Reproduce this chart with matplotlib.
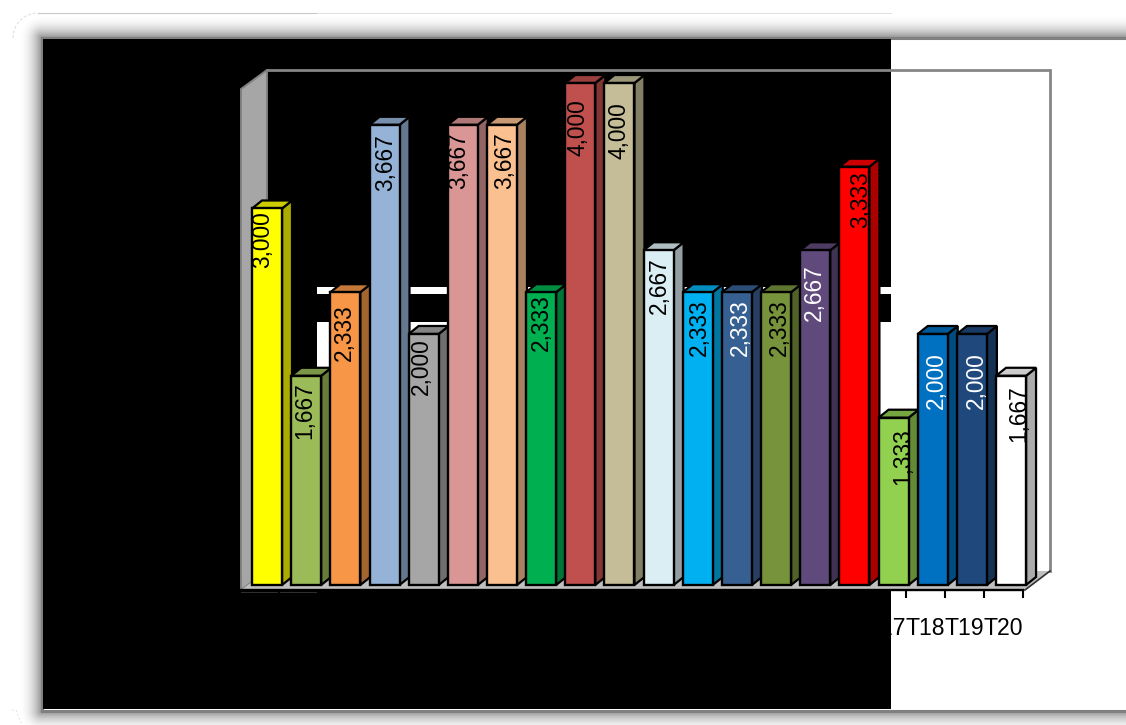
import numpy as np
import matplotlib
matplotlib.use("Agg")
import matplotlib.pyplot as plt
from matplotlib.patches import Polygon, Rectangle

plt.rcParams['font.family'] = ['Liberation Sans', 'DejaVu Sans']

W, H = 1126, 725

categories = ["T" + str(i) for i in range(1, 21)]
values = [3.000, 1.667, 2.333, 3.667, 2.000, 3.667, 3.667, 2.333, 4.000, 4.000,
          2.667, 2.333, 2.333, 2.333, 2.667, 3.333, 1.333, 2.000, 2.000, 1.667]
value_labels = ["3,000", "1,667", "2,333", "3,667", "2,000", "3,667", "3,667", "2,333", "4,000", "4,000",
                "2,667", "2,333", "2,333", "2,333", "2,667", "3,333", "1,333", "2,000", "2,000", "1,667"]
bar_colors = ["#FFFF00", "#9BBB59", "#F79646", "#95B3D7", "#A6A6A6", "#D99694", "#FAC090", "#00B050",
              "#C0504D", "#C4BD97", "#DBEEF4", "#00B0F0", "#376092", "#77933C", "#604A7B", "#FF0000",
              "#92D050", "#0070C0", "#1F497D", "#FFFFFF"]
text_colors = ["black", "black", "black", "black", "black", "black", "black", "black", "black", "black",
               "black", "black", "white", "black", "white", "black", "black", "white", "white", "black"]

# where each value label sits relative to its bar top, in pixels
label_dx = [-4, -1, -1, 1, -2, -4, 3, 0, -2, 0, 1, 2, 3, 3, -1, 6, 9, 4, 4, 8]
label_dy = [3, 6, 12, 9, 4, 7, 7, 2, 16, 19, 7, 7, 7, 7, 14, 5, 11, 18, 18, 9]


def shade(color, f):
    r, g, b, _ = matplotlib.colors.to_rgba(color)
    return (r * f, g * f, b * f)


fig = plt.figure(figsize=(W / 100, H / 100), dpi=100, facecolor="white")

# backdrop, in pixel coordinates
bg = fig.add_axes([0, 0, 1, 1], zorder=0)
bg.axis("off")

# soft shadow round the chart frame
yy, xx = np.mgrid[0:H, 0:W]
ddx = np.maximum(41 - xx, 0)
ddy = np.maximum(np.maximum(37 - yy, yy - 711), 0)
dist = np.hypot(ddx, ddy)
alpha = np.clip(1 - dist / 24, 0, 1) ** 2.2 * 0.42
shadow = np.zeros((H, W, 4))
shadow[..., 3] = alpha
bg.imshow(shadow, extent=(0, W, H, 0), aspect="auto", interpolation="bilinear", zorder=1)
bg.set_xlim(0, W)
bg.set_ylim(H, 0)

# faint rounded outline behind the frame
t = np.linspace(np.pi, 1.5 * np.pi, 30)
bg.plot(38 + 25 * np.cos(t), 38 + 25 * np.sin(t), color="#dcdcdc", lw=0.7, ls=(0, (3, 2)), zorder=2)
bg.plot([38, 317], [13, 13], color="#c8c8c8", lw=0.8, zorder=2)
bg.plot([317, 891], [13, 13], color="#e2e2e2", lw=0.8, zorder=2)
bg.plot([12, 16, 19, 22], [710, 710, 718, 724], color="#d8d8d8", lw=0.6, ls=(0, (2, 3)), zorder=2)

bg.add_patch(Rectangle((41.5, 37.5), W, 673, facecolor="white", edgecolor="#808080", lw=2.2, zorder=3))
bg.add_patch(Rectangle((43, 39), 848, 670, facecolor="black", edgecolor="none", zorder=4))
bg.add_patch(Rectangle((317, 287), 574, 6.5, facecolor="white", edgecolor="none", zorder=5))
bg.add_patch(Rectangle((317, 322), 574, 268, facecolor="white", edgecolor="none", zorder=5))

# chart walls and floor
bg.plot([267, 1049.5, 1049.5], [69.5, 69.5, 571], color="#868686", lw=2.0, zorder=6, solid_joinstyle="miter")
bg.add_patch(Polygon([(241, 89), (267, 70), (267, 571), (241, 590)], closed=True,
                     facecolor="#A6A6A6", edgecolor="#808080", lw=1.4, zorder=6))
bg.add_patch(Polygon([(241, 590), (267, 571), (1050, 571), (1025, 590)], closed=True,
                     facecolor="#C0C0C0", edgecolor="none", zorder=6))
bg.plot([1025, 1050], [590, 571], color="#303030", lw=1.2, zorder=6)
bg.plot([241, 277], [592, 592], color="#303030", lw=0.7, zorder=6)
bg.plot([280, 316], [592, 592], color="#303030", lw=0.7, zorder=6)

# bars
ax = fig.add_axes([240 / W, 1 - 590 / H, (1023.2 - 240) / W, (590 - 83) / H], zorder=1)
ax.patch.set_visible(False)
ax.set_xlim(-0.5, 19.5)
ax.set_ylim(-0.04, 4.0)

x_pos = np.arange(20) + 0.19
bar_w = 30 / 39.16
depth_x = 10 / 39.16
depth_y = 8 / 125.5

for i in range(20):
    left = x_pos[i] - bar_w / 2
    right = x_pos[i] + bar_w / 2
    v = values[i]
    ax.add_patch(Polygon([(right, 0), (right + depth_x, depth_y), (right + depth_x, v + depth_y), (right, v)],
                         closed=True, facecolor=shade(bar_colors[i], 0.67), edgecolor="black", lw=1.6,
                         clip_on=False, zorder=2))
    ax.add_patch(Polygon([(left, v), (left + depth_x, v + depth_y), (right + depth_x, v + depth_y), (right, v)],
                         closed=True, facecolor=shade(bar_colors[i], 0.8), edgecolor="black", lw=1.6,
                         clip_on=False, zorder=2))

ax.bar(x_pos, values, width=bar_w, color=bar_colors, edgecolor="black", linewidth=1.7, zorder=3, clip_on=False)

for i in range(20):
    ax.annotate(value_labels[i], xy=(x_pos[i], values[i]), xytext=(label_dx[i], -label_dy[i]),
                textcoords="offset pixels", rotation=90, ha="center", va="top", fontsize=16.4,
                color=text_colors[i], zorder=4, annotation_clip=False)

ax.set_yticks([])
for s in ["top", "left", "right"]:
    ax.spines[s].set_visible(False)
ax.spines["bottom"].set_color("black")
ax.spines["bottom"].set_linewidth(1.7)

# tick marks between the categories, names centred under them
ax.set_xticks(np.arange(20))
ax.set_xticklabels(categories, fontsize=16.6, color="black")
ax.set_xticks(np.arange(-0.5, 20), minor=True)
ax.tick_params(axis="x", which="major", length=0, pad=19.5)
ax.tick_params(axis="x", which="minor", length=5.5, width=1.5, color="black")

fig.savefig("out.png", dpi=100)
